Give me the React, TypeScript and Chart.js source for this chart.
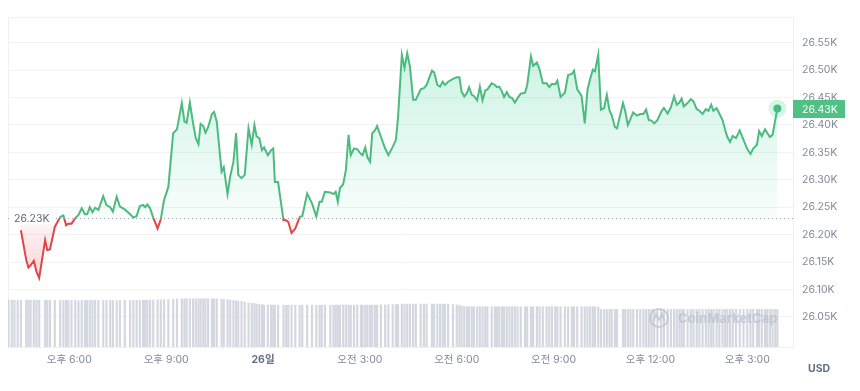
import React, { useEffect, useRef } from 'react';
import { Chart, registerables } from 'chart.js';

Chart.register(...registerables);

const FONT = "Inter, 'Noto Sans CJK KR', 'Noto Sans', sans-serif";
const GREEN = '#4cbb7f';
const RED = '#dc4848';
const TAG_GREEN = '#50c184';

const BASELINE = 26230;
const BASELINE_LABEL = '26.23K';
const CURRENT_LABEL = '26.43K';
const CURRENCY = 'USD';
const WATERMARK = 'CoinMarketCap';

// minutes relative to 26일 00:00
const times = [
  -473, -467, -462, -456,
  -450, -440, -436, -432, -426, -421, -416, -405, -401, -396,
  -387, -377, -371, -366, -362, -356, -349, -343, -337, -331,
  -327, -322, -317, -312, -306, -297, -291, -284, -279, -272,
  -266, -257, -247, -241, -235, -229, -223, -219, -215, -210,
  -204, -196, -190, -184, -176, -167, -160, -151, -146, -142,
  -136, -130, -125, -120, -116, -111, -107, -102, -95, -91,
  -86, -77, -73, -66, -61, -55, -50, -46, -40, -34,
  -27, -21, -16, -12, -7, -2, 2, 9, 15, 19,
  22, 28, 38, 43, 47, 53, 60, 68, 73, 82,
  91, 99, 105, 109, 115, 125, 131, 135, 139, 143,
  149, 154, 159, 163, 169, 175, 182, 185, 190, 194,
  199, 203, 208, 212, 219, 227, 233, 241, 247, 251,
  258, 263, 268, 273, 279, 284, 293, 299, 304, 314,
  318, 324, 329, 334, 338, 344, 353, 360, 365, 369,
  374, 379, 383, 388, 392, 398, 403, 408, 413, 417,
  425, 431, 435, 439, 444, 448, 453, 458, 463, 468,
  473, 479, 487, 491, 498, 502, 509, 514, 520, 527,
  532, 537, 543, 547, 553, 561, 567, 574, 578, 584,
  592, 598, 603, 608, 613, 617, 623, 628, 634, 639,
  644, 648, 654, 658, 669, 673, 678, 683, 688, 695,
  701, 707, 712, 717, 722, 727, 733, 740, 745, 752,
  758, 764, 769, 774, 778, 782, 789, 795, 800, 806,
  811, 817, 823, 828, 833, 837, 843, 848, 854, 859,
  863, 868, 873, 879, 886, 893, 900, 906, 911, 918,
  922, 927, 933, 937, 942, 947, 952, 956,
];

const prices: (number | null)[] = [
  null, null, null, null,
  26208, 26153, 26140, 26144, 26152, 26132, 26121, 26190, 26172, 26173,
  26214, 26232, 26235, 26217, 26220, 26220, 26230, 26236, 26248, 26237,
  26237, 26250, 26241, 26249, 26245, 26270, 26254, 26250, 26242, 26269,
  26251, 26246, 26237, 26231, 26234, 26252, 26254, 26250, 26255, 26248,
  26231, 26211, 26228, 26263, 26287, 26385, 26392, 26440, 26406, 26404,
  26441, 26403, 26376, 26365, 26402, 26398, 26386, 26396, 26420, 26424,
  26406, 26315, 26323, 26274, 26306, 26333, 26385, 26309, 26303, 26309,
  26394, 26364, 26400, 26379, 26376, 26354, 26359, 26345, 26354, 26357,
  26296, 26296, 26226, 26226, 26223, 26203, 26211, 26232, 26234, 26275,
  26257, 26233, 26260, 26260, 26278, 26277, 26274, 26278, 26260, 26285,
  26292, 26318, 26382, 26345, 26357, 26356, 26347, 26345, 26359, 26341,
  26333, 26385, 26390, 26398, 26379, 26357, 26345, 26360, 26373, 26415,
  26528, 26504, 26531, 26507, 26446, 26446, 26465, 26467, 26473, 26499,
  26496, 26473, 26470, 26479, 26473, 26479, 26484, 26487, 26487, 26461,
  26452, 26458, 26469, 26455, 26453, 26445, 26470, 26445, 26463, 26465,
  26476, 26473, 26469, 26470, 26461, 26451, 26460, 26451, 26449, 26441,
  26449, 26457, 26459, 26473, 26525, 26508, 26514, 26501, 26476, 26476,
  26469, 26475, 26474, 26481, 26451, 26459, 26491, 26493, 26499, 26465,
  26453, 26403, 26464, 26484, 26501, 26498, 26528, 26428, 26431, 26455,
  26426, 26418, 26396, 26394, 26440, 26426, 26400, 26411, 26423, 26417,
  26420, 26420, 26428, 26409, 26408, 26403, 26409, 26424, 26431, 26421,
  26432, 26452, 26437, 26441, 26448, 26434, 26440, 26447, 26443, 26429,
  26426, 26420, 26429, 26426, 26437, 26426, 26431, 26421, 26409, 26391,
  26378, 26369, 26380, 26376, 26390, 26373, 26356, 26347, 26357, 26364,
  26389, 26380, 26392, 26386, 26378, 26382, 26409, 26430,
];

// volume (billions USD)
const volumes = [
  14.2, 14.2, 14.2, 14.2,
  14.2, 14.2, 14.2, 14.2, 14.2, 14.2, 14.2, 14.2, 14.2, 14.2,
  14.2, 14.1, 14.1, 14.2, 14.1, 14.1, 14.1, 14.0, 14.1, 14.1,
  14.1, 14.1, 14.1, 14.2, 14.1, 14.1, 14.1, 14.1, 14.1, 14.0,
  14.1, 14.1, 14.1, 14.1, 14.1, 14.1, 14.2, 14.2, 14.2, 14.2,
  14.2, 14.3, 14.3, 14.3, 14.3, 14.5, 14.6, 14.6, 14.6, 14.6,
  14.6, 14.6, 14.6, 14.6, 14.6, 14.6, 14.6, 14.6, 14.6, 14.6,
  14.6, 14.5, 14.4, 14.3, 14.2, 14.1, 14.0, 13.9, 13.8, 13.6,
  13.4, 13.3, 13.2, 13.0, 12.9, 12.8, 12.7, 12.7, 12.7, 12.7,
  12.7, 12.7, 12.7, 12.6, 12.7, 12.7, 12.7, 12.7, 12.7, 12.7,
  12.7, 12.7, 12.7, 12.7, 12.7, 12.6, 12.7, 12.7, 12.7, 12.7,
  12.7, 12.7, 12.7, 12.7, 12.7, 12.7, 12.7, 12.7, 12.7, 12.7,
  12.7, 12.7, 12.7, 12.7, 12.8, 12.8, 12.8, 12.8, 12.9, 12.9,
  13.0, 13.0, 13.0, 13.0, 13.0, 13.0, 13.0, 13.0, 13.0, 13.0,
  13.0, 13.0, 13.0, 13.0, 13.0, 13.0, 12.9, 12.8, 12.6, 12.4,
  12.3, 12.2, 12.2, 12.2, 12.2, 12.2, 12.2, 12.2, 12.2, 12.2,
  12.2, 12.2, 12.2, 12.2, 12.2, 12.2, 12.2, 12.2, 12.2, 12.2,
  12.2, 12.2, 12.2, 12.2, 12.2, 12.2, 12.2, 12.2, 12.2, 12.2,
  12.2, 12.2, 12.2, 12.2, 12.2, 12.2, 12.2, 12.2, 12.2, 12.2,
  12.2, 12.2, 12.2, 12.2, 12.2, 12.2, 12.1, 11.4, 11.4, 11.4,
  11.4, 11.4, 11.4, 11.4, 11.4, 11.4, 11.4, 11.4, 11.4, 11.4,
  11.4, 11.4, 11.4, 11.4, 11.4, 11.4, 11.4, 11.4, 11.4, 11.4,
  11.4, 11.4, 11.4, 11.4, 11.4, 11.4, 11.4, 11.4, 11.4, 11.4,
  11.4, 11.4, 11.4, 11.4, 11.4, 11.4, 11.4, 11.4, 11.4, 11.4,
  11.4, 11.4, 11.4, 11.4, 11.4, 11.4, 11.4, 11.4, 11.4, 11.4,
  11.4, 11.4, 11.4, 11.4, 11.4, 11.4, 11.4, 11.4,
];

const xTickValues = [-360, -180, 0, 180, 360, 540, 720, 900];
const xTickLabels = ['오후 6:00', '오후 9:00', '26일', '오전 3:00', '오전 6:00', '오전 9:00', '오후 12:00', '오후 3:00'];
const yTickValues = [26050, 26100, 26150, 26200, 26250, 26300, 26350, 26400, 26450, 26500, 26550];

const X_MIN = -474;
const X_MAX = 985;
const Y_MIN = 25995;
const Y_MAX = 26597;

const overlay = {
  id: 'overlay',
  beforeDatasetsDraw(chart: any) {
    const { ctx, chartArea: a } = chart;
    ctx.save();
    ctx.strokeStyle = '#eef0f3';
    ctx.lineWidth = 1;
    ctx.strokeRect(a.left + 0.5, a.top + 0.5, a.right - a.left, a.bottom - a.top);
    ctx.restore();
  },
  beforeDatasetDraw(chart: any, args: any) {
    const ds = chart.data.datasets[args.index];
    if (!ds.clipSide) return;
    const { ctx, chartArea: a } = chart;
    const yB = chart.scales.y.getPixelForValue(BASELINE);
    ctx.save();
    ctx.beginPath();
    if (ds.clipSide === 'above') ctx.rect(a.left - 5, 0, a.right - a.left + 10, yB);
    else ctx.rect(a.left - 5, yB, a.right - a.left + 10, chart.height - yB);
    ctx.clip();
  },
  afterDatasetDraw(chart: any, args: any) {
    const ds = chart.data.datasets[args.index];
    if (!ds.clipSide) return;
    chart.ctx.restore();
  },
  afterDatasetsDraw(chart: any) {
    const { ctx, chartArea: a } = chart;
    const ys = chart.scales.y;
    const yB = Math.round(ys.getPixelForValue(BASELINE)) + 0.5;
    ctx.save();
    // watermark
    const wx = a.right - 134;
    const wy = a.bottom - 29;
    ctx.strokeStyle = 'rgba(185,192,206,0.75)';
    ctx.fillStyle = 'rgba(185,192,206,0.75)';
    ctx.lineWidth = 1.8;
    ctx.beginPath();
    ctx.arc(wx, wy, 9, 0, Math.PI * 2);
    ctx.stroke();
    ctx.beginPath();
    ctx.moveTo(wx - 5.5, wy + 3);
    ctx.lineTo(wx - 3, wy - 4);
    ctx.lineTo(wx, wy + 2);
    ctx.lineTo(wx + 3, wy - 4);
    ctx.lineTo(wx + 5.5, wy + 3);
    ctx.stroke();
    ctx.font = `bold 13px ${FONT}`;
    ctx.textBaseline = 'middle';
    ctx.textAlign = 'left';
    ctx.fillText(WATERMARK, wx + 19, wy + 1);

    // dotted baseline
    ctx.setLineDash([1, 3]);
    ctx.strokeStyle = '#9ea5b1';
    ctx.lineWidth = 1;
    ctx.beginPath();
    ctx.moveTo(a.left, yB);
    ctx.lineTo(a.right, yB);
    ctx.stroke();
    ctx.setLineDash([]);

    // baseline label
    ctx.font = `10.5px ${FONT}`;
    const w = ctx.measureText(BASELINE_LABEL).width;
    ctx.fillStyle = '#ffffff';
    ctx.fillRect(a.left + 1, yB - 6, w + 9, 12);
    ctx.fillStyle = '#58667e';
    ctx.fillText(BASELINE_LABEL, a.left + 6, yB + 0.5);

    // end point
    const meta = chart.getDatasetMeta(1);
    const last = meta.data[meta.data.length - 1];
    ctx.fillStyle = 'rgba(22,199,132,0.18)';
    ctx.beginPath();
    ctx.arc(last.x, last.y, 9, 0, Math.PI * 2);
    ctx.fill();
    ctx.fillStyle = GREEN;
    ctx.beginPath();
    ctx.arc(last.x, last.y, 4, 0, Math.PI * 2);
    ctx.fill();

    // current price tag
    const yp = Math.round(ys.getPixelForValue(prices[prices.length - 1] as number));
    ctx.fillStyle = TAG_GREEN;
    ctx.fillRect(a.right, yp - 9, 52, 18);
    ctx.fillStyle = '#ffffff';
    ctx.font = `10.5px ${FONT}`;
    ctx.fillText(CURRENT_LABEL, a.right + 9, yp + 0.5);

    // currency
    ctx.fillStyle = '#616e85';
    ctx.font = `bold 10.5px ${FONT}`;
    ctx.fillText(CURRENCY, a.right + 15, a.bottom + 22);
    ctx.restore();
  },
};

export default function App() {
  const ref = useRef<HTMLCanvasElement | null>(null);

  useEffect(() => {
    if (!ref.current) return;
    const priceData = times.map((t, i) => ({ x: t, y: prices[i] }));
    const volData = times.map((t, i) => ({ x: t, y: volumes[i] }));

    const chart = new Chart(ref.current, {
      type: 'line',
      data: {
        datasets: [
          {
            type: 'bar',
            data: volData as any,
            xAxisID: 'x',
            yAxisID: 'yVol',
            backgroundColor: '#d3d7df',
            borderWidth: 0,
            barThickness: 1.5,
            order: 3,
          } as any,
          {
            type: 'line',
            data: priceData as any,
            yAxisID: 'y',
            borderColor: GREEN,
            borderWidth: 2,
            pointRadius: 0,
            tension: 0,
            fill: false,
            clipSide: 'above',
            order: 2,
          } as any,
          {
            type: 'line',
            data: priceData as any,
            yAxisID: 'y',
            borderColor: RED,
            borderWidth: 2,
            pointRadius: 0,
            tension: 0,
            fill: false,
            clipSide: 'below',
            order: 1,
          } as any,
        ],
      },
      options: {
        animation: false,
        responsive: true,
        maintainAspectRatio: false,
        layout: { padding: { left: 8, top: 17, right: 0, bottom: 0 } },
        plugins: { legend: { display: false }, tooltip: { enabled: false } },
        scales: {
          x: {
            type: 'linear',
            min: X_MIN,
            max: X_MAX,
            offset: false,
            grid: { display: false, drawTicks: false },
            border: { display: false },
            afterBuildTicks: (s: any) => {
              s.ticks = xTickValues.map((v) => ({ value: v }));
            },
            afterFit: (s: any) => {
              s.height = 44;
            },
            ticks: {
              autoSkip: false,
              maxRotation: 0,
              padding: 7,
              color: (c: any) => (c.tick && c.tick.value === 0 ? '#616e85' : '#80889a'),
              font: (c: any) => ({
                family: FONT,
                size: 10.5,
                weight: c.tick && c.tick.value === 0 ? 'bold' : 'normal',
              }),
              callback: (v: any) => {
                const i = xTickValues.indexOf(Number(v));
                return i >= 0 ? xTickLabels[i] : '';
              },
            },
          },
          y: {
            type: 'linear',
            position: 'right',
            min: Y_MIN,
            max: Y_MAX,
            grid: { color: '#f1f2f4', drawTicks: false },
            border: { display: false },
            afterBuildTicks: (s: any) => {
              s.ticks = yTickValues.map((v) => ({ value: v }));
            },
            afterFit: (s: any) => {
              s.width = 67;
            },
            ticks: {
              padding: 9,
              color: '#80889a',
              font: { family: FONT, size: 10.5 },
              callback: (v: any) => (Number(v) / 1000).toFixed(2) + 'K',
            },
          },
          yVol: {
            type: 'linear',
            display: false,
            min: 0,
            max: 100,
          },
        },
      } as any,
      plugins: [overlay],
    });

    const ys = chart.scales.y;
    const c = chart.ctx;
    const gG = c.createLinearGradient(0, ys.getPixelForValue(26540), 0, ys.getPixelForValue(BASELINE));
    gG.addColorStop(0, 'rgba(22,199,132,0.22)');
    gG.addColorStop(1, 'rgba(22,199,132,0.03)');
    const gR = c.createLinearGradient(0, ys.getPixelForValue(BASELINE), 0, ys.getPixelForValue(26120));
    gR.addColorStop(0, 'rgba(234,57,67,0.04)');
    gR.addColorStop(1, 'rgba(234,57,67,0.22)');
    (chart.data.datasets[1] as any).fill = { target: { value: BASELINE }, above: gG, below: 'rgba(0,0,0,0)' };
    (chart.data.datasets[2] as any).fill = { target: { value: BASELINE }, above: 'rgba(0,0,0,0)', below: gR };
    chart.update('none');

    return () => chart.destroy();
  }, []);

  return (
    <div style={{ position: 'absolute', left: 0, top: 0, width: 860, height: 391, background: '#ffffff' }}>
      <canvas ref={ref} />
    </div>
  );
}
